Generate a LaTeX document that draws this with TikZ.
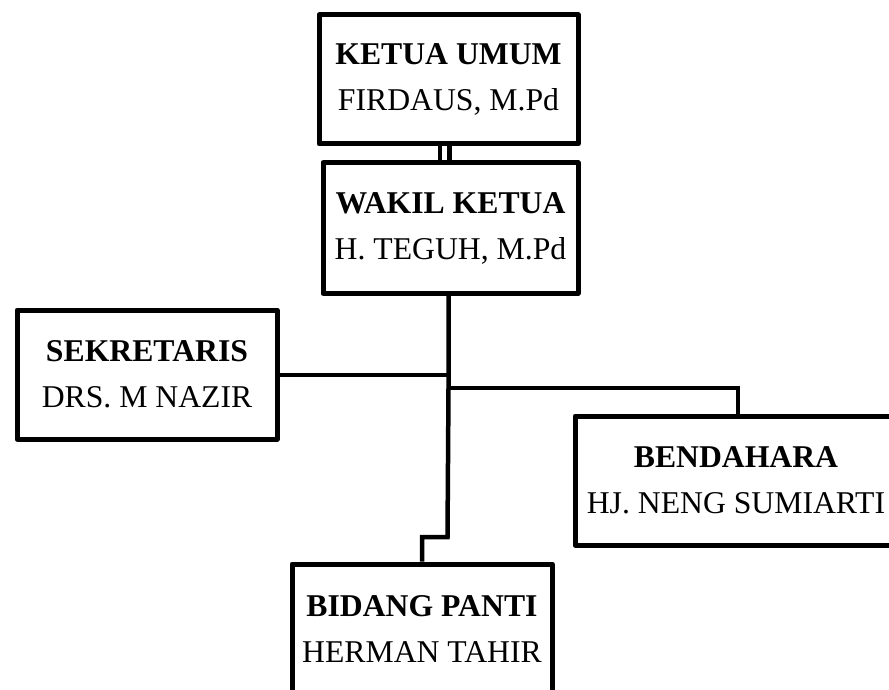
\documentclass[tikz,border=0pt]{standalone}
\usepackage{fontspec}
\setmainfont{Liberation Serif}
\begin{document}
\begin{tikzpicture}[x=1pt,y=-1pt,
  box/.style={draw=black,line width=5pt,line join=round,fill=white,minimum width=#1,inner sep=0pt,align=center,font=\fontsize{31.7}{46}\selectfont},
  conn/.style={draw=black,line width=4.5pt}]
\useasboundingbox (0,0) rectangle (889,690);
\clip (0,0) rectangle (889,690);
% boxes
\node[box=259pt,minimum height=129pt] (ketua) at (448.5,79.5) {\textbf{KETUA UMUM}\\FIRDAUS, M.Pd};
\node[box=255pt,minimum height=130.5pt] (wakil) at (450.5,228) {\textbf{WAKIL KETUA}\\H. TEGUH, M.Pd};
\node[box=260pt,minimum height=129pt] (sek) at (147,374.5) {\textbf{SEKRETARIS}\\DRS. M NAZIR};
\node[box=322pt,minimum height=129pt] (bend) at (736,480.5) {\textbf{BENDAHARA}\\HJ. NENG SUMIARTI};
\node[box=260pt,minimum height=130pt] (bidang) at (422,629) {\textbf{BIDANG PANTI}\\HERMAN TAHIR};
% connectors
\coordinate (j1) at (448.5,375);
\coordinate (j2) at (448.5,388);
\coordinate (j3) at (447.5,537);
\coordinate (j4) at (422,537);
\coordinate (j5) at (738,388);
\draw[conn] (ketua.south -| 440,0) -- (wakil.north -| 440,0);
\draw[conn] (ketua.south -| 449.5,0) -- (wakil.north -| 449.5,0);
\draw[conn] (wakil.south -| j1) -- (j1) -- (j2) -- (j3) -- (j4) -- (bidang.north -| j4);
\draw[conn] (sek.east |- j1) -- (j1);
\draw[conn] (j2) -- (j5) -- (bend.north -| j5);
\end{tikzpicture}
\end{document}
